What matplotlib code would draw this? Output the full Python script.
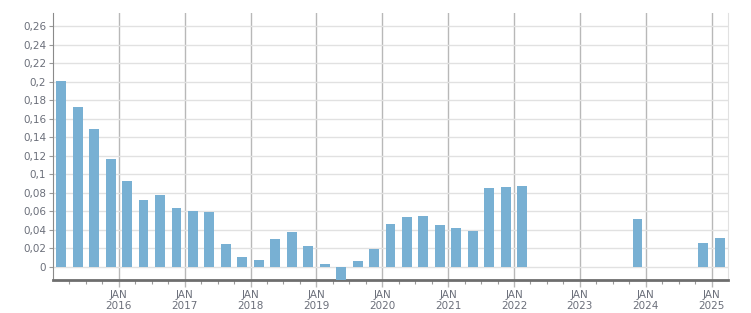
import matplotlib

matplotlib.use("Agg")
import matplotlib.pyplot as plt
from matplotlib.ticker import FixedLocator

# Quarterly values (year, quarter) -> value
years = [2015, 2015, 2015, 2015, 2016, 2016, 2016, 2016, 2017, 2017, 2017, 2017,
         2018, 2018, 2018, 2018, 2019, 2019, 2019, 2019, 2020, 2020, 2020, 2020,
         2021, 2021, 2021, 2021, 2022, 2023, 2024, 2025]
quarters = [1, 2, 3, 4, 1, 2, 3, 4, 1, 2, 3, 4,
            1, 2, 3, 4, 1, 2, 3, 4, 1, 2, 3, 4,
            1, 2, 3, 4, 1, 4, 4, 1]
values = [0.201, 0.173, 0.149, 0.116, 0.093, 0.072, 0.078, 0.064, 0.060, 0.059, 0.025, 0.011,
          0.0075, 0.030, 0.038, 0.023, 0.003, -0.015, 0.0065, 0.019, 0.0466, 0.054, 0.055, 0.0455,
          0.042, 0.039, 0.0855, 0.0866, 0.0877, 0.052, 0.026, 0.0314]

jan_years = [2016, 2017, 2018, 2019, 2020, 2021, 2022, 2023, 2024, 2025]
y_ticks = [0, 0.02, 0.04, 0.06, 0.08, 0.1, 0.12, 0.14, 0.16, 0.18, 0.2, 0.22, 0.24, 0.26]
y_labels = ["0", "0,02", "0,04", "0,06", "0,08", "0,1", "0,12", "0,14", "0,16",
            "0,18", "0,2", "0,22", "0,24", "0,26"]

BAR_COLOR = "#78b0d3"
TEXT_COLOR = "#6b6f7a"

x = [y + (q - 1) * 0.25 + 0.125 for y, q in zip(years, quarters)]

fig = plt.figure(figsize=(7.51, 3.13), dpi=100)
ax = fig.add_axes([53 / 751, 33 / 313, (728 - 53) / 751, (300 - 33) / 313])

ax.bar(x, values, width=0.15, color=BAR_COLOR, zorder=3)

ax.set_xlim(2015, 2025.25)
ax.set_ylim(-0.014, 0.274)

ax.set_yticks(y_ticks)
ax.set_yticklabels(y_labels)
ax.set_xticks(jan_years)
ax.set_xticklabels([f"JAN\n{y}" for y in jan_years])
minor = [2015 + i * 0.25 for i in range(1, 41) if (i % 4) != 0]
ax.xaxis.set_minor_locator(FixedLocator(minor))

ax.grid(axis="y", color="#e1e1e1", linewidth=1, zorder=0)
ax.grid(axis="x", which="major", color="#b8b8b8", linewidth=1, zorder=1)

ax.tick_params(axis="y", length=3, width=0.8, color="#999999", labelsize=7.5,
               labelcolor=TEXT_COLOR, pad=2)
ax.tick_params(axis="x", which="major", length=5, width=1, color="#b8b8b8",
               labelsize=7.5, labelcolor=TEXT_COLOR, pad=2)
ax.tick_params(axis="x", which="minor", length=3, width=0.8, color="#999999")

for side in ["top"]:
    ax.spines[side].set_visible(False)
ax.spines["right"].set_color("#e1e1e1")
ax.spines["left"].set_color("#8a8a8a")
ax.spines["bottom"].set_color("#6e6e6e")
ax.spines["bottom"].set_linewidth(2)

fig.savefig("out.png", dpi=100)
